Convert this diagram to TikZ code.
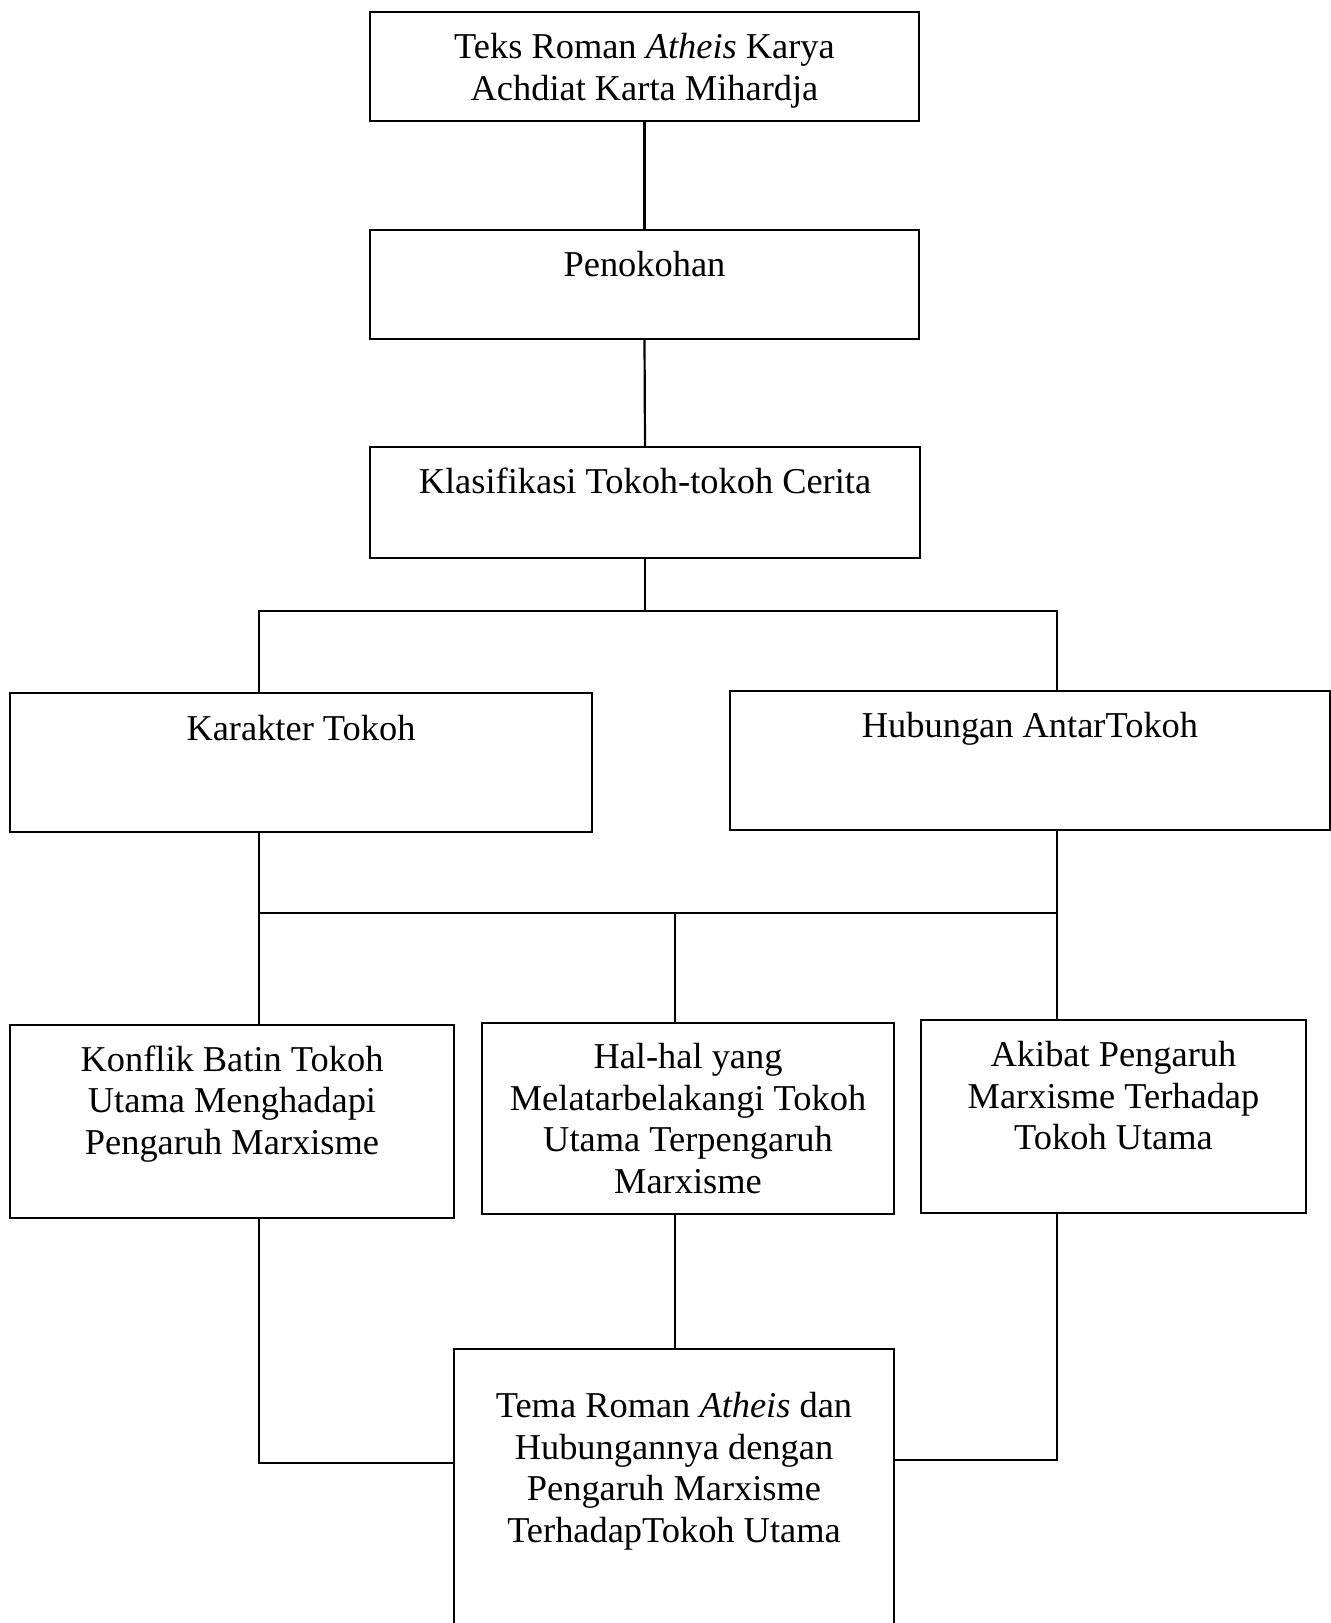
\documentclass[tikz,border=0pt]{standalone}
\usepackage{fontspec}
\setmainfont{Liberation Serif}
\begin{document}
\begin{tikzpicture}[x=0.5pt,y=-0.5pt,
  box/.style={draw,line width=1.1pt,inner sep=0pt,outer sep=0pt},
  txt/.style={anchor=north,inner sep=0pt,align=center,font=\fontsize{18.2}{20.75}\selectfont},
  conn/.style={line width=1.1pt}]
\useasboundingbox (0,0) rectangle (1331,1623);
\fill[white] (0,0) rectangle (1331,1623);
\clip (0,0) rectangle (1331,1623);
% boxes
\node[box,minimum width=274.5pt,minimum height=54.5pt] (b1) at (644.5,66.5) {};
\node[box,minimum width=274.5pt,minimum height=54.5pt] (b2) at (644.5,284.5) {};
\node[box,minimum width=275pt,minimum height=55.5pt] (b3) at (645,502.5) {};
\node[box,minimum width=291pt,minimum height=69.5pt] (k) at (301,762.5) {};
\node[box,minimum width=300pt,minimum height=69.5pt] (h) at (1030,760.5) {};
\node[box,minimum width=222pt,minimum height=96.5pt] (c1) at (232,1121.5) {};
\node[box,minimum width=206pt,minimum height=95.5pt] (c2) at (688,1118.5) {};
\node[box,minimum width=192.5pt,minimum height=96.5pt] (c3) at (1113.5,1116.5) {};
\node[box,minimum width=220pt,minimum height=175.5pt] (t) at (674,1524.5) {};
% texts
\node[txt,yshift=-10.5pt] (tb1) at (b1.north) {Teks Roman \textit{Atheis} Karya\\Achdiat Karta Mihardja};
\node[txt,yshift=-10.5pt] (tb2) at (b2.north) {Penokohan};
\node[txt,yshift=-10pt] (tb3) at (b3.north) {Klasifikasi Tokoh-tokoh Cerita};
\node[txt,yshift=-11pt] (tk) at (k.north) {Karakter Tokoh};
\node[txt,yshift=-10.5pt] (th) at (h.north) {Hubungan AntarTokoh};
\node[txt,yshift=-10pt] (tc1) at (c1.north) {Konflik Batin Tokoh\\Utama Menghadapi\\Pengaruh Marxisme};
\node[txt,yshift=-10pt] (tc2) at (c2.north) {Hal-hal yang\\Melatarbelakangi Tokoh\\Utama Terpengaruh\\Marxisme};
\node[txt,yshift=-10.5pt] (tc3) at (c3.north) {Akibat Pengaruh\\Marxisme Terhadap\\Tokoh Utama};
\node[txt,yshift=-21.5pt] (tt) at (t.north) {Tema Roman \textit{Atheis} dan\\Hubungannya dengan\\Pengaruh Marxisme\\TerhadapTokoh Utama};
% connector points
\coordinate (brL) at (259,611);
\coordinate (brR) at (1057,611);
\coordinate (mL) at (259,913);
\coordinate (mM) at (675,913);
\coordinate (mR) at (1057,913);
\coordinate (jL) at (259,1463);
\coordinate (jR) at (1057,1460);
% connectors
\draw[conn] (b1.south) -- (b2.north);
\draw[conn] (b2.south) -- (b3.north);
\draw[conn] (b3.south) -- (b3.south |- brL);
\draw[conn] (brL |- k.north) -- (brL) -- (brR) -- (brR |- h.north);
\draw[conn] (mL |- k.south) -- (mL) -- (mR) -- (mR |- h.south);
\draw[conn] (mL) -- (mL |- c1.north);
\draw[conn] (mM) -- (mM |- c2.north);
\draw[conn] (mR) -- (mR |- c3.north);
\draw[conn] (mL |- c1.south) -- (jL) -- (jL -| t.west);
\draw[conn] (mR |- c3.south) -- (jR) -- (jR -| t.east);
\draw[conn] (mM |- c2.south) -- (mM |- t.north);
\end{tikzpicture}
\end{document}
